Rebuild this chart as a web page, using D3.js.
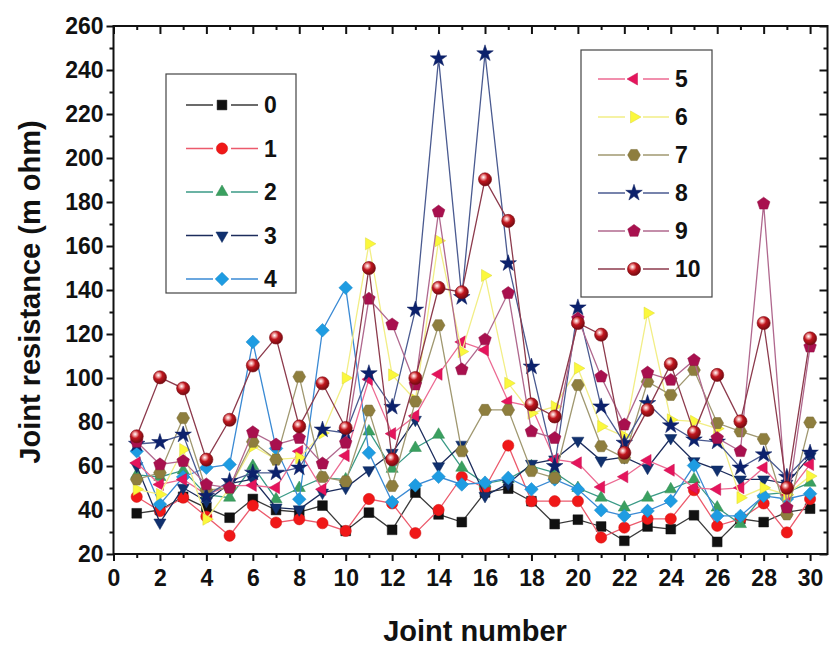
<!DOCTYPE html>
<html>
<head>
<meta charset="utf-8">
<script src="https://cdn.jsdelivr.net/npm/d3@7/dist/d3.min.js"></script>
<style>
  body { margin: 0; background: #fff; }
  text { font-family: "Liberation Sans", Arial, sans-serif; font-weight: bold; fill: #111; }
</style>
</head>
<body>
<svg id="chart" width="831" height="646"></svg>
<script>
// Joint numbers along the x axis
const joints = d3.range(1, 31);

// Joint resistance (m ohm) for each sample group
const s0  = [38.5, 40, 46, 41, 36.5, 45, 40, 39, 42, 30.5, 38.8, 31, 47.9, 38, 34.5, 48, 49.7, 44, 33.6, 35.6, 32.5, 26, 32.5, 31.3, 37.6, 25.5, 36, 34.5, 39, 40.6];
const s1  = [46, 39.5, 45.6, 37, 28.3, 42, 34.3, 35.8, 34, 30.5, 45, 43, 29.5, 40, 55, 50, 69.3, 44, 44, 44, 27.5, 32, 36, 36, 49, 32.8, 36, 43, 29.8, 45];
const s2  = [56, 55, 58, 47, 45.6, 60, 44.9, 50, 54.6, 53.9, 75.7, 58.7, 68.2, 74.2, 59.2, 52, 54, 59.9, 57, 50, 45.6, 41.1, 45.6, 49.4, 53.9, 41.1, 33.6, 47, 48, 52.4];
const s3  = [60, 34.3, 50.1, 44, 52, 54, 41.1, 40.3, 47.9, 50.1, 58.1, 66, 81, 59.9, 69.7, 46.4, 52, 61, 63, 71.5, 62.5, 64, 59.2, 72.7, 62.2, 58.4, 53.9, 53.9, 52, 64.4];
const s4  = [66.7, 42.6, 55, 59.2, 60.7, 116.4, 68, 44.9, 121.7, 141, 66, 43.6, 51.2, 55.1, 51.6, 52.4, 54.6, 49.4, 53.9, 49.4, 39.9, 37.3, 39.6, 44.1, 60.2, 37.3, 37.3, 46.4, 45, 47.4];
const s5  = [61.4, 51.6, 53.9, 47, 51, 51.2, 50.1, 66.7, 49.4, 64.7, 99.4, 74.7, 82.8, 101.7, 116.4, 112.7, 89.3, 87, 63, 61.4, 50.4, 55.1, 62.5, 58.1, 50.1, 49.4, 50.1, 59.2, 47, 60.7];
const s6  = [49.4, 47.1, 67.5, 35.8, 50, 69, 63, 63.7, 75, 100, 161, 101.4, 90, 162.4, 112, 146.6, 97.6, 84, 87, 104.4, 78, 73.5, 129.5, 81, 80.3, 77, 45.6, 50.1, 47, 55.4];
const s7  = [53.9, 56.9, 81.8, 49, 50, 71, 62.9, 100.6, 55, 53, 85.2, 50.9, 89.3, 124, 66.7, 85.5, 85.5, 57.7, 54.6, 96.8, 69, 63.7, 98.3, 92.3, 103.6, 79.5, 75.7, 72.3, 38, 79.8];
const s8  = [70, 70.8, 74.2, 46.4, 53.1, 56.9, 56.9, 59.2, 76.5, 75, 102.1, 86.8, 131, 245.2, 136.7, 247.5, 152.1, 105.1, 59.9, 132, 87, 70.5, 88.5, 78.4, 72, 71, 59.2, 65.2, 55, 66];
const s9  = [71, 60.7, 62.2, 51.6, 50.1, 75.3, 69.7, 72.7, 61.1, 70.5, 136, 124.3, 97, 175.6, 103.9, 117.5, 138.6, 75.7, 72.7, 127, 100.6, 78.8, 102.4, 99.1, 108.1, 72.7, 66.7, 179.2, 41.1, 114.2];
const s10 = [73.5, 100.3, 95.3, 62.9, 81, 105.7, 118.4, 78, 97.6, 77.3, 150, 63, 100, 141, 139, 190.3, 171.4, 88, 82.5, 125, 119.7, 66, 85.5, 106.3, 75.3, 101.4, 80.3, 125, 50.1, 118];

const seriesNames = ["0", "1", "2", "3", "4", "5", "6", "7", "8", "9", "10"];
const seriesValues = [s0, s1, s2, s3, s4, s5, s6, s7, s8, s9, s10];

// Axis ticks
const xMajorTicks = d3.range(0, 31, 2);
const xMinorTicks = d3.range(1, 31, 2);
const yMajorTicks = d3.range(20, 261, 20);
const yMinorTicks = d3.range(30, 260, 20);

// Per-series look: marker shape, marker fill and connecting-line colour
const styles = [
  { shape: "square",   fill: "#111111", line: "#3a3a3a" },
  { shape: "circle",   fill: "#f01818", line: "#ec5a6c" },
  { shape: "triUp",    fill: "#3aa060", line: "#3a9a86" },
  { shape: "triDown",  fill: "#10306e", line: "#1c2c5c" },
  { shape: "diamond",  fill: "#1e9ce2", line: "#3a8ad4" },
  { shape: "triLeft",  fill: "#e5145c", line: "#ec6a92" },
  { shape: "triRight", fill: "#fbf83c", line: "#f2ee86" },
  { shape: "hexagon",  fill: "#8e7e3e", line: "#a09870" },
  { shape: "star",     fill: "#0c216c", line: "#4a5a90" },
  { shape: "pentagon", fill: "#a8104e", line: "#b0688e" },
  { shape: "ball",     fill: "#b0141e", line: "#8c3a4c" }
];

const svg = d3.select("#chart");
const defs = svg.append("defs");
const grad = defs.append("radialGradient").attr("id", "ballGrad")
  .attr("cx", "0.38").attr("cy", "0.34").attr("r", "0.7");
grad.append("stop").attr("offset", "0").attr("stop-color", "#ffffff");
grad.append("stop").attr("offset", "0.2").attr("stop-color", "#f0a0a0");
grad.append("stop").attr("offset", "0.45").attr("stop-color", "#c0161e");
grad.append("stop").attr("offset", "1").attr("stop-color", "#6e0a10");

const plotL = 113.5, plotR = 827.5, plotT = 26, plotB = 554;
const x = d3.scaleLinear().domain([0, 30.75]).range([plotL, plotR]);
const y = d3.scaleLinear().domain([20, 260]).range([plotB, plotT]);

// Marker paths centred on the origin
function polygon(n, r, rot) {
  const pts = d3.range(n).map(i => {
    const a = rot + i * 2 * Math.PI / n;
    return [r * Math.cos(a), r * Math.sin(a)];
  });
  return "M" + pts.map(p => p[0].toFixed(2) + "," + p[1].toFixed(2)).join("L") + "Z";
}
function markerPath(shape) {
  switch (shape) {
    case "square":   return d3.symbol(d3.symbolSquare, 95)();
    case "circle":   return d3.symbol(d3.symbolCircle, 100)();
    case "triUp":    return polygon(3, 7, -Math.PI / 2);
    case "triDown":  return polygon(3, 7, Math.PI / 2);
    case "triLeft":  return polygon(3, 7, Math.PI);
    case "triRight": return polygon(3, 7, 0);
    case "diamond":  return polygon(4, 6.8, -Math.PI / 2);
    case "hexagon":  return polygon(6, 6.4, 0);
    case "pentagon": return polygon(5, 6.6, -Math.PI / 2);
    case "star":     return d3.symbol(d3.symbolStar, 85)();
    case "ball":     return d3.symbol(d3.symbolCircle, 135)();
  }
}
function drawMarker(g, st, cx, cy) {
  const p = g.append("path")
    .attr("d", markerPath(st.shape))
    .attr("transform", `translate(${cx},${cy})`);
  if (st.shape === "ball") {
    p.attr("fill", "url(#ballGrad)").attr("stroke", "#7a0c14").attr("stroke-width", 0.6);
  } else {
    p.attr("fill", st.fill).attr("stroke", d3.color(st.fill).darker(0.4)).attr("stroke-width", 0.5);
  }
}

// Frame
svg.append("rect").attr("x", plotL).attr("y", plotT)
  .attr("width", plotR - plotL).attr("height", plotB - plotT)
  .attr("fill", "none").attr("stroke", "#111").attr("stroke-width", 2);

function styleAxis(g) {
  g.select(".domain").remove();
  g.selectAll(".tick line").attr("stroke", "#111").attr("stroke-width", 2);
  g.selectAll(".tick text").style("font-size", "23px").attr("fill", "#111");
}

// Bottom axis (outward ticks, labelled)
svg.append("g").attr("transform", `translate(0,${plotB})`)
  .call(d3.axisBottom(x).tickValues(xMajorTicks).tickSize(7).tickPadding(9).tickFormat(d3.format("d")))
  .call(styleAxis);
svg.append("g").attr("transform", `translate(0,${plotB})`)
  .call(d3.axisBottom(x).tickValues(xMinorTicks).tickSize(4).tickFormat(""))
  .call(styleAxis);
// Top axis (inward ticks)
svg.append("g").attr("transform", `translate(0,${plotT})`)
  .call(d3.axisTop(x).tickValues(xMajorTicks).tickSize(-8).tickFormat(""))
  .call(styleAxis);
svg.append("g").attr("transform", `translate(0,${plotT})`)
  .call(d3.axisTop(x).tickValues(xMinorTicks).tickSize(-4).tickFormat(""))
  .call(styleAxis);
// Left axis (outward ticks, labelled)
svg.append("g").attr("transform", `translate(${plotL},0)`)
  .call(d3.axisLeft(y).tickValues(yMajorTicks).tickSize(7).tickPadding(3).tickFormat(d3.format("d")))
  .call(styleAxis);
svg.append("g").attr("transform", `translate(${plotL},0)`)
  .call(d3.axisLeft(y).tickValues(yMinorTicks).tickSize(4).tickFormat(""))
  .call(styleAxis);
// Right axis (inward ticks)
svg.append("g").attr("transform", `translate(${plotR},0)`)
  .call(d3.axisRight(y).tickValues(yMajorTicks).tickSize(-8).tickFormat(""))
  .call(styleAxis);
svg.append("g").attr("transform", `translate(${plotR},0)`)
  .call(d3.axisRight(y).tickValues(yMinorTicks).tickSize(-4).tickFormat(""))
  .call(styleAxis);

// Axis titles
svg.append("text").attr("x", 475).attr("y", 641)
  .attr("text-anchor", "middle").style("font-size", "29px")
  .text("Joint number");
svg.append("text").attr("transform", "translate(40,292) rotate(-90)")
  .attr("text-anchor", "middle").style("font-size", "29px")
  .text("Joint resistance (m ohm)");

// Series: line then markers, drawn in order
const line = d3.line().x((d, i) => x(joints[i])).y(d => y(d));
const plot = svg.append("g");
seriesValues.forEach((vals, k) => {
  const st = styles[k];
  const g = plot.append("g");
  g.append("path").datum(vals).attr("d", line)
    .attr("fill", "none").attr("stroke", st.line).attr("stroke-width", 1.3);
  vals.forEach((v, i) => drawMarker(g, st, x(joints[i]), y(v)));
});

// Legends
function legend(box, items, y0, dy, lx0, lx1, mx, tx) {
  const g = svg.append("g");
  g.append("rect").attr("x", box[0]).attr("y", box[1])
    .attr("width", box[2] - box[0]).attr("height", box[3] - box[1])
    .attr("fill", "#fff").attr("stroke", "#444").attr("stroke-width", 1.2);
  items.forEach((k, j) => {
    const st = styles[k];
    const yy = y0 + j * dy;
    g.append("line").attr("x1", lx0).attr("x2", lx1).attr("y1", yy).attr("y2", yy)
      .attr("stroke", st.line).attr("stroke-width", 1.4);
    g.append("rect").attr("x", mx - 9).attr("y", yy - 8).attr("width", 18).attr("height", 16).attr("fill", "#fff");
    drawMarker(g, st, mx, yy);
    g.append("text").attr("x", tx).attr("y", yy + 8).style("font-size", "23px").text(seriesNames[k]);
  });
}
legend([166, 74, 296, 293], [0, 1, 2, 3, 4], 105, 43.5, 186, 258, 222, 264);
legend([581, 50, 712, 297], [5, 6, 7, 8, 9, 10], 79, 38, 598, 669, 634, 675);
</script>
</body>
</html>
